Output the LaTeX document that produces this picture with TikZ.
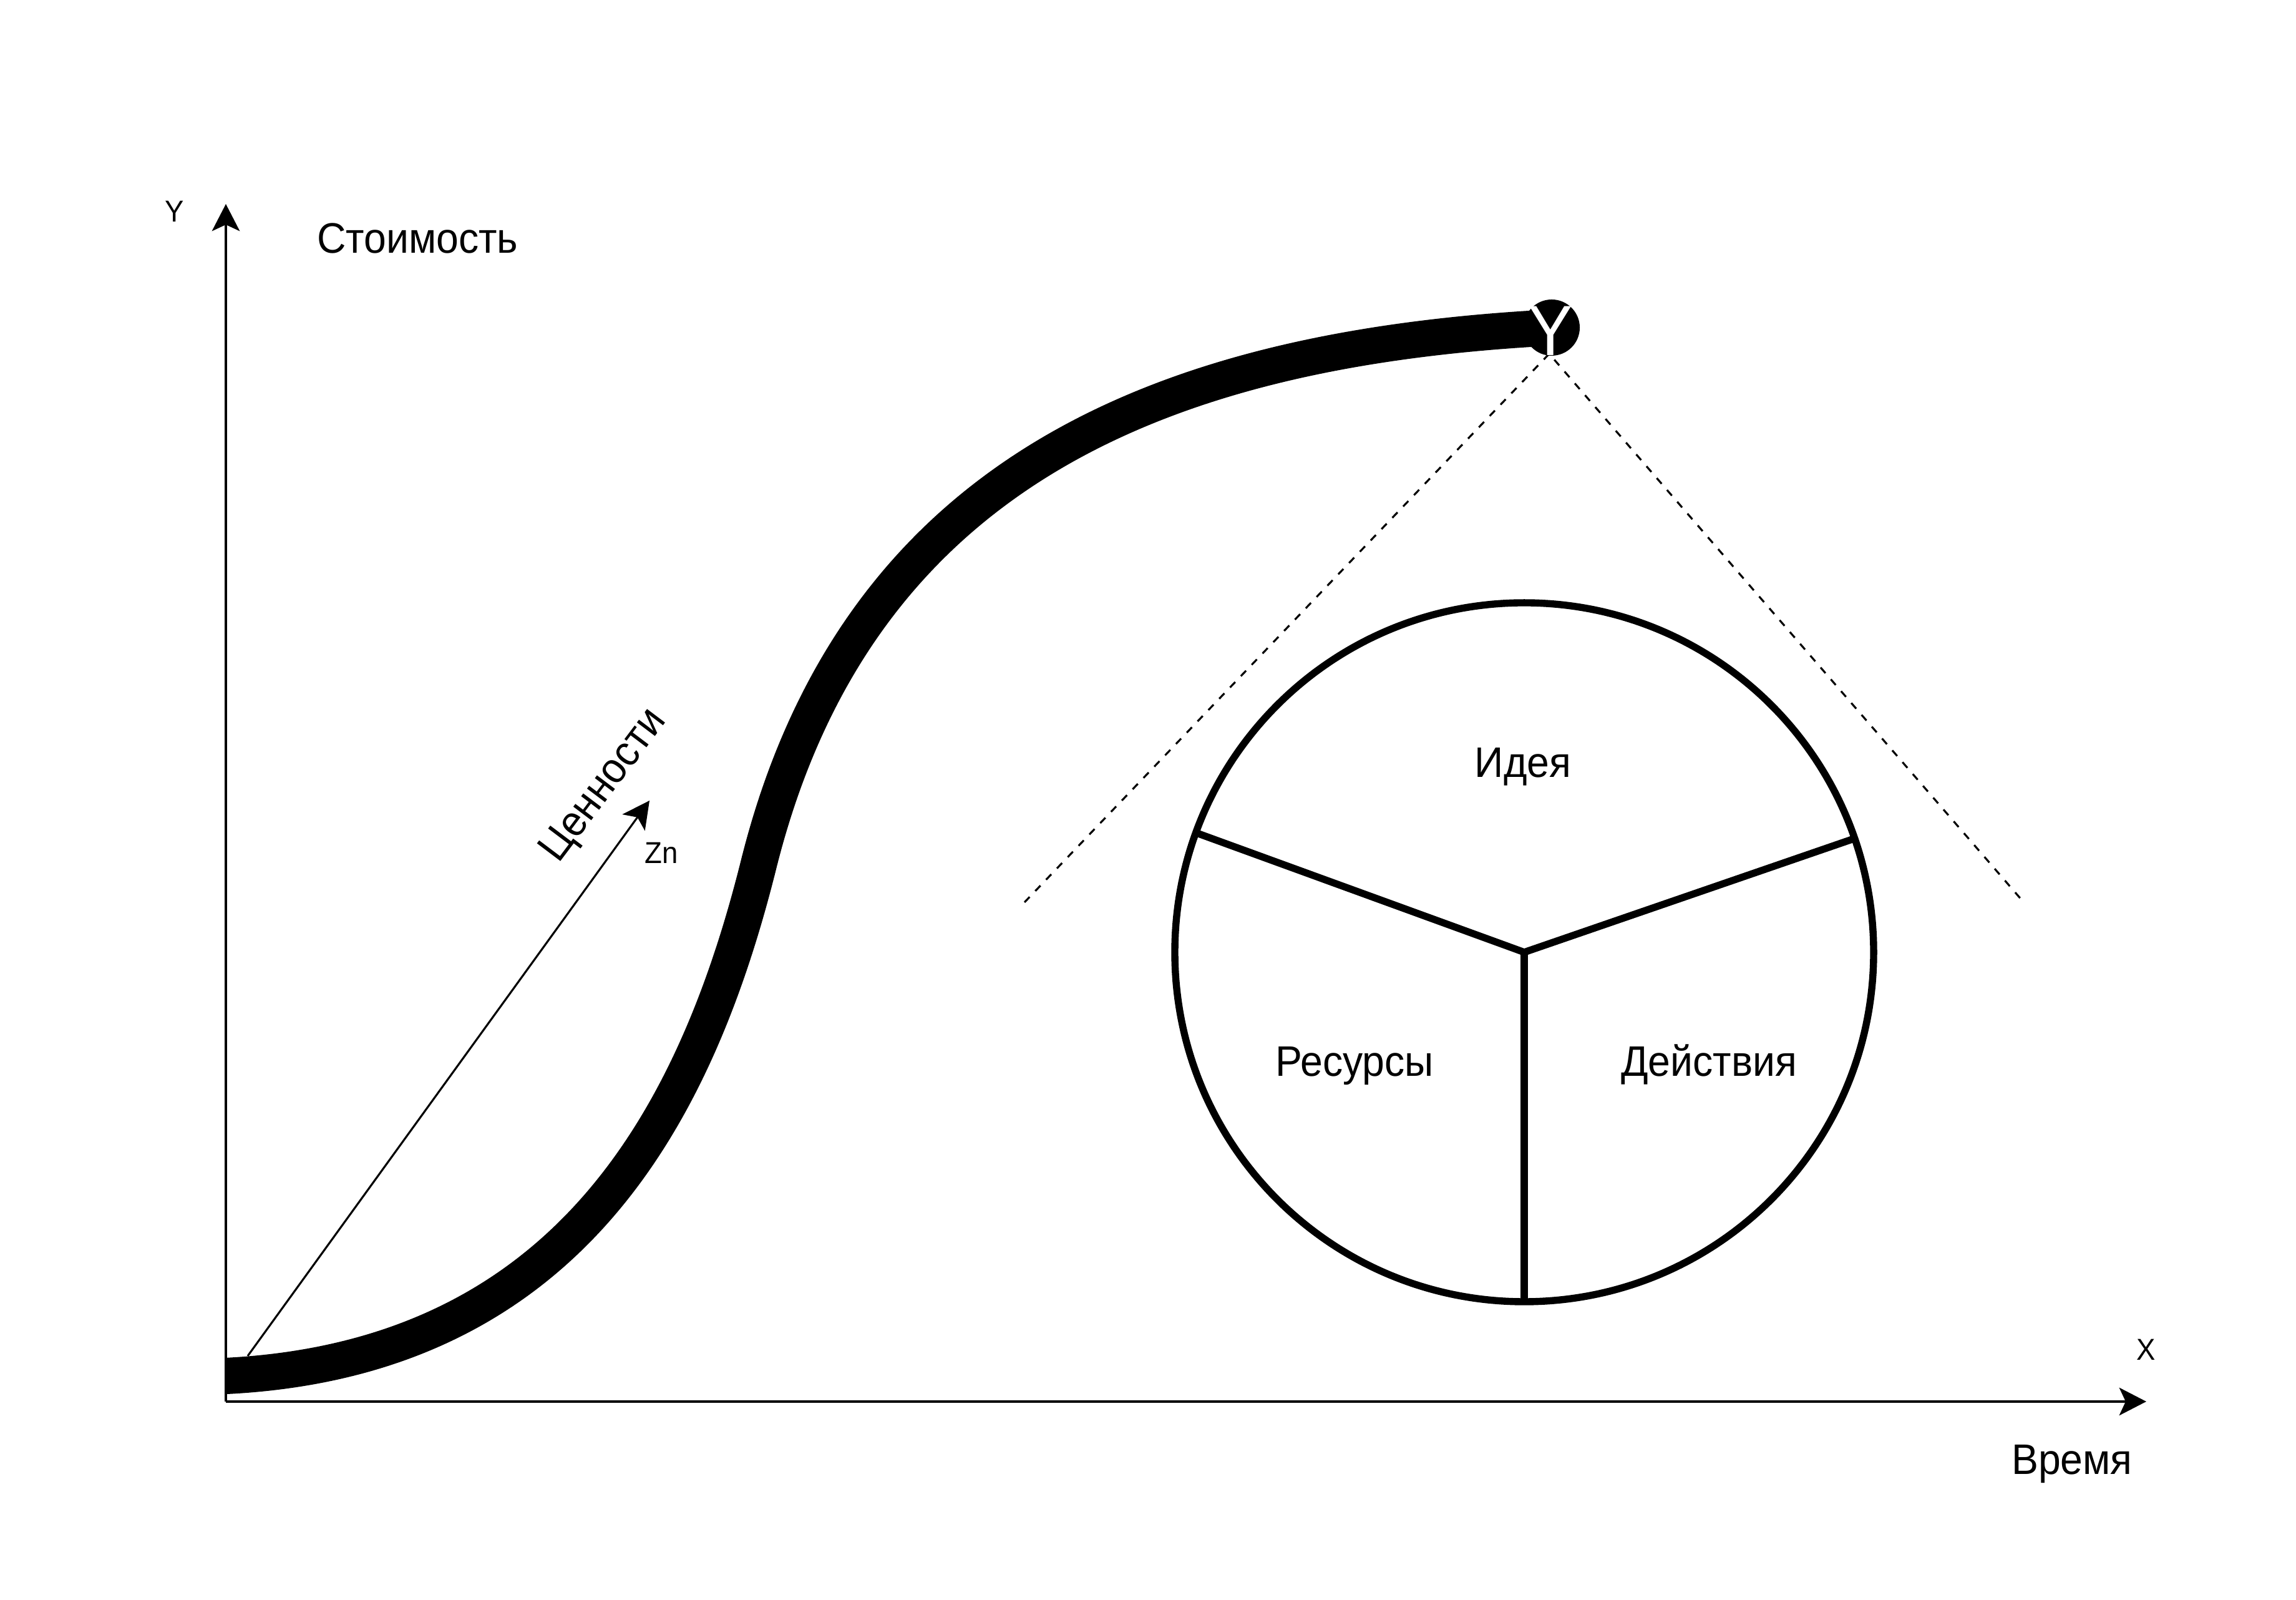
\documentclass[tikz,border=0pt]{standalone}
\usepackage{fontspec}
\setmainfont{Liberation Sans}[FakeStretch=0.94]
\usetikzlibrary{arrows.meta}
\begin{document}
\begin{tikzpicture}[x=0.6165cm, y=0.6165cm, font=\fontsize{12}{14}\selectfont, line join=round,
		>={Stealth[length=7.6pt,width=7.8pt,inset=1.8pt]},
		inner sep=0pt,
		axis/.style={line width=0.6pt,->},
		small/.style={font=\fontsize{8.5}{10}\selectfont},
		part/.style={line width=2pt},
		guide/.style={line width=0.55pt,dash pattern=on 2.1pt off 2.3pt}]
		\def\xmin{-3.62} \def\xmax{33.18}
		\def\ymin{-3.18} \def\ymax{22.46}
		\useasboundingbox (\xmin,\ymin) rectangle (\xmax,\ymax);
		%\draw[color=gray!50,dashed] (0,0) grid (31,20);
		\coordinate (O) at (0,0);
		\coordinate (xend) at (30.78,0);
		\coordinate (yend) at (0,19.19);
		\draw[axis] (O)--(xend);
		\draw[axis] (O)--(yend);
		\node[small,anchor=base] (ylab) at (-0.82,18.90) {Y};
		\node[small,anchor=base] (xlab) at (30.78,0.66) {X};
		\node[anchor=base west] (cost) at (1.45,18.40) {Стоимость};
		\node[anchor=base] (time) at (29.59,-1.17) {Время};
		% value vector
		\coordinate (vstart) at (0.35,0.73);
		\coordinate (vend) at (6.79,9.63);
		\draw[line width=0.55pt,->] (vstart)--(vend);
		\node[small,anchor=base] (zn) at (6.98,8.62) {Zn};
		\node[rotate=53] (values) at (6.07,9.86) {Ценности};
		% growth curve
		\coordinate (start) at (0,0.41);
		\coordinate (bend) at (8.54,8.61);
		\coordinate (top) at (21.25,17.21);
		\draw[line width=10.2pt] (start) .. controls (5.50,0.685) and (7.54,4.61) .. (bend)
			.. controls (10.14,15.01) and (15.18,16.89) .. (top);
		\coordinate (apex) at (21.21,16.79);
		\coordinate (dl) at (12.80,8.00);
		\coordinate (dr) at (28.79,8.03);
		\draw[guide] (dl)--(apex)--(dr);
		\fill (top) circle (0.45);
		\node[text=white,font=\fontsize{20}{24}\selectfont,anchor=base] (topY) at (21.23,16.76) {Y};
		% model wheel
		\node[circle,draw,part,minimum size=6.905cm,outer sep=0pt] (wheel) at (20.81,7.20) {};
		\draw[part] (wheel.160.5)--(wheel.center)--(wheel.19.5);
		\draw[part] (wheel.center)--(wheel.south);
		\node[anchor=base] (idea) at (20.79,10.00) {Идея};
		\node[anchor=base] (res) at (18.09,5.21) {Ресурсы};
		\node[anchor=base] (act) at (23.77,5.21) {Действия};
	\end{tikzpicture}
\end{document}
